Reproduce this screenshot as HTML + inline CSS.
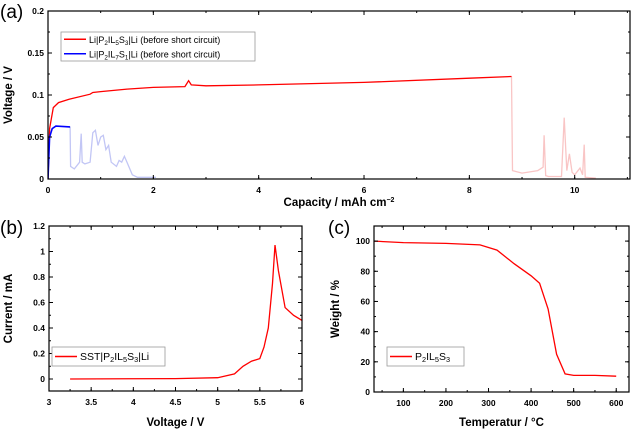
<!DOCTYPE html>
<html><head><meta charset="utf-8"><style>
body{margin:0;background:#fff}
svg text{font-family:"Liberation Sans",sans-serif}
</style></head><body>
<svg id="fig" width="631" height="429" viewBox="0 0 631 429" xmlns="http://www.w3.org/2000/svg"></svg>
<script>
// Panel (a) data
const aRedX=[0,0.03,0.1,0.2,0.4,0.8,0.85,1,1.5,2,2.6,2.62,2.67,2.72,3,4,6,8,8.8];
const aRedY=[0,0.06,0.085,0.091,0.095,0.101,0.103,0.104,0.107,0.109,0.11,0.112,0.117,0.112,0.111,0.112,0.115,0.12,0.122];
const aRedFadeX=[8.8,8.82,9,9.3,9.4,9.42,9.45,9.5,9.75,9.8,9.85,9.9,9.95,10,10.1,10.15,10.18,10.2,10.4];
const aRedFadeY=[0.122,0.01,0.007,0.01,0.014,0.052,0.004,0.003,0.003,0.073,0.01,0.03,0.008,0.005,0.013,0.005,0.041,0.002,0.001];
const aBlueX=[0,0.03,0.08,0.15,0.42];
const aBlueY=[0,0.05,0.06,0.063,0.062];
const aBlueFadeX=[0.42,0.43,0.5,0.6,0.63,0.65,0.7,0.8,0.85,0.9,0.95,1,1.05,1.1,1.15,1.2,1.3,1.35,1.4,1.45,1.5,1.6,1.7,2.05];
const aBlueFadeY=[0.062,0.015,0.012,0.02,0.054,0.02,0.018,0.02,0.055,0.058,0.04,0.05,0.052,0.035,0.04,0.02,0.015,0.022,0.02,0.027,0.02,0.005,0.002,0.002];
const aXTicks=[0,2,4,6,8,10];
const aYTicks=[0,0.05,0.1,0.15,0.2];
const aYLabels=["0","0.05","0.1","0.15","0.2"];
// Panel (b) data
const bX=[3.25,4.5,5,5.2,5.3,5.4,5.5,5.55,5.6,5.65,5.68,5.72,5.8,5.9,6];
const bY=[0,0.003,0.01,0.04,0.1,0.14,0.16,0.25,0.4,0.75,1.05,0.85,0.56,0.5,0.46];
const bXTicks=[3,3.5,4,4.5,5,5.5,6];
const bYTicks=[0,0.2,0.4,0.6,0.8,1,1.2];
// Panel (c) data
const cX=[30,100,200,280,320,360,400,420,440,460,480,500,550,600];
const cY=[100,99,98.5,97.5,94,85,77,72,55,25,12,11,11,10.5];
const cXTicks=[100,200,300,400,500,600];
const cYTicks=[0,20,40,60,80,100];

const NS="http://www.w3.org/2000/svg";
const svg=document.getElementById('fig');
function mk(tag,attrs,parent,text){const e=document.createElementNS(NS,tag);for(const k in attrs)e.setAttribute(k,attrs[k]);if(text!==undefined)e.textContent=text;(parent||svg).appendChild(e);return e;}

function panel(p){
  const g=mk('g',{});
  
  
  const sx=v=>p.x0+(v-p.xmin)/(p.xmax-p.xmin)*(p.x1-p.x0);
  const sy=v=>p.y1-(v-p.ymin)/(p.ymax-p.ymin)*(p.y1-p.y0);
  mk('clipPath',{id:p.name+'-clip'},g).appendChild(document.createElementNS(NS,'rect'));
  const cr=g.lastChild.firstChild;cr.setAttribute('x',p.x0);cr.setAttribute('y',p.y0);cr.setAttribute('width',p.x1-p.x0);cr.setAttribute('height',p.y1-p.y0);
  p.series.forEach(s=>{
    const d=s.x.map((v,i)=>(i?'L':'M')+sx(v).toFixed(1)+','+sy(s.y[i]).toFixed(1)).join('');
    const pa=mk('path',{d:d,fill:'none',stroke:s.c,'stroke-width':s.w||1.3,'clip-path':'url(#'+p.name+'-clip)'},g);
    
    
  });
  const fr=mk('rect',{x:p.x0,y:p.y0,width:p.x1-p.x0,height:p.y1-p.y0,fill:'none',stroke:'#000','stroke-width':1.2},g);
  
  
  // minor ticks
  const xs=p.xt[1]-p.xt[0], ys=p.yt[1]-p.yt[0];
  for(let v=p.xt[0]-xs/2;v<=p.xmax;v+=xs/2){if(v<p.xmin)continue;const x=sx(v);
    mk('line',{x1:x,x2:x,y1:p.y1,y2:p.y1-2,stroke:'#000'},g);mk('line',{x1:x,x2:x,y1:p.y0,y2:p.y0+2,stroke:'#000'},g);}
  for(let v=p.yt[0]-ys/2;v<=p.ymax+1e-9;v+=ys/2){if(v<p.ymin)continue;const y=sy(v);
    mk('line',{x1:p.x0,x2:p.x0+2,y1:y,y2:y,stroke:'#000'},g);mk('line',{x1:p.x1,x2:p.x1-2,y1:y,y2:y,stroke:'#000'},g);}
  p.xt.forEach((v,i)=>{
    const x=sx(v);
    mk('line',{x1:x,x2:x,y1:p.y1,y2:p.y1-4,stroke:'#000'},g);
    mk('line',{x1:x,x2:x,y1:p.y0,y2:p.y0+4,stroke:'#000'},g);
    const t=mk('text',{x:x,y:p.y1+14,'font-size':8.5,'font-weight':'bold','text-anchor':'middle'},g,p.xl?p.xl[i]:String(v));
    
    
  });
  p.yt.forEach((v,i)=>{
    const y=sy(v);
    mk('line',{x1:p.x0,x2:p.x0+4,y1:y,y2:y,stroke:'#000'},g);
    mk('line',{x1:p.x1,x2:p.x1-4,y1:y,y2:y,stroke:'#000'},g);
    const t=mk('text',{x:p.x0-4,y:y+3,'font-size':8.5,'font-weight':'bold','text-anchor':'end'},g,p.yl?p.yl[i]:String(v));
    
    
  });
  const xt=mk('text',{x:(p.x0+p.x1)/2,y:p.xTitleY,'font-size':11.5,'font-weight':'bold','text-anchor':'middle'},g);
  xt.innerHTML=p.xTitle;
  
  
  const cy=(p.y0+p.y1)/2;
  const yt=mk('text',{x:p.yTitleX,y:cy,'font-size':11.5,'font-weight':'bold','text-anchor':'middle',transform:'rotate(-90 '+p.yTitleX+' '+cy+')'},g,p.yTitle);
  
  
  const pl=mk('text',{x:p.lx,y:p.ly,'font-size':19},g,p.label);
  
  
  const lg=mk('g',{},g);
  
  
  mk('rect',{x:p.leg.x,y:p.leg.y,width:p.leg.w,height:p.leg.h,fill:'#fff',stroke:'#999','stroke-width':0.8},lg);
  p.leg.items.forEach((it,i)=>{
    const yy=p.leg.y+p.leg.h/(2*p.leg.items.length)+i*p.leg.h/p.leg.items.length;
    mk('line',{x1:p.leg.x+3,x2:p.leg.x+25,y1:yy,y2:yy,stroke:it.c,'stroke-width':1.5},lg);
    const t=mk('text',{x:p.leg.x+28,y:yy+3.5,'font-size':p.leg.fs},lg);
    t.innerHTML=it.t;
    
    
  });
}
const sub=s=>'<tspan dy="2" font-size="0.7em">'+s+'</tspan><tspan dy="-2">\u200b</tspan>';
panel({name:'panel-a',x0:48,x1:630,y0:11,y1:179,xmin:0,xmax:11.05,ymin:0,ymax:0.2,
  xt:aXTicks,yt:aYTicks,yl:aYLabels,
  series:[{x:aRedFadeX,y:aRedFadeY,c:'#f9c5c5',n:'red-after-short'},{x:aBlueFadeX,y:aBlueFadeY,c:'#c2c6f5',n:'blue-after-short'},
    {x:aRedX,y:aRedY,c:'#f00',n:'red-series'},{x:aBlueX,y:aBlueY,c:'#00f',w:1.6,n:'blue-series'}],
  xTitle:'Capacity / mAh cm<tspan dy="-4" font-size="7">−2</tspan>',xTitleY:206,yTitle:'Voltage / V',yTitleX:12,
  label:'(a)',lx:0,ly:18,
  leg:{x:61,y:32,w:194,h:29,fs:9,items:[{c:'#f00',t:'Li|P'+sub('2')+'IL'+sub('5')+'S'+sub('3')+'|Li (before short circuit)'},{c:'#00f',t:'Li|P'+sub('2')+'IL'+sub('7')+'S'+sub('1')+'|Li (before short circuit)'}]}});
panel({name:'panel-b',x0:49,x1:302,y0:226,y1:391,xmin:3,xmax:6,ymin:-0.094,ymax:1.2,
  xt:bXTicks,yt:bYTicks,
  series:[{x:bX,y:bY,c:'#f00',n:'current-curve'}],
  xTitle:'Voltage / V',xTitleY:426,yTitle:'Current / mA',yTitleX:12,
  label:'(b)',lx:0,ly:234,
  leg:{x:52,y:347,w:113,h:19,fs:10.5,items:[{c:'#f00',t:'SST|P'+sub('2')+'IL'+sub('5')+'S'+sub('3')+'|Li'}]}});
panel({name:'panel-c',x0:374,x1:629,y0:226,y1:392,xmin:31,xmax:630,ymin:0,ymax:110,
  xt:cXTicks,yt:cYTicks,
  series:[{x:cX,y:cY,c:'#f00',n:'weight-curve'}],
  xTitle:'Temperatur / °C',xTitleY:426,yTitle:'Weight / %',yTitleX:339,
  label:'(c)',lx:328,ly:234,
  leg:{x:387,y:347,w:77,h:19,fs:10.5,items:[{c:'#f00',t:'P'+sub('2')+'IL'+sub('5')+'S'+sub('3')}]}});
</script>
</body></html>
